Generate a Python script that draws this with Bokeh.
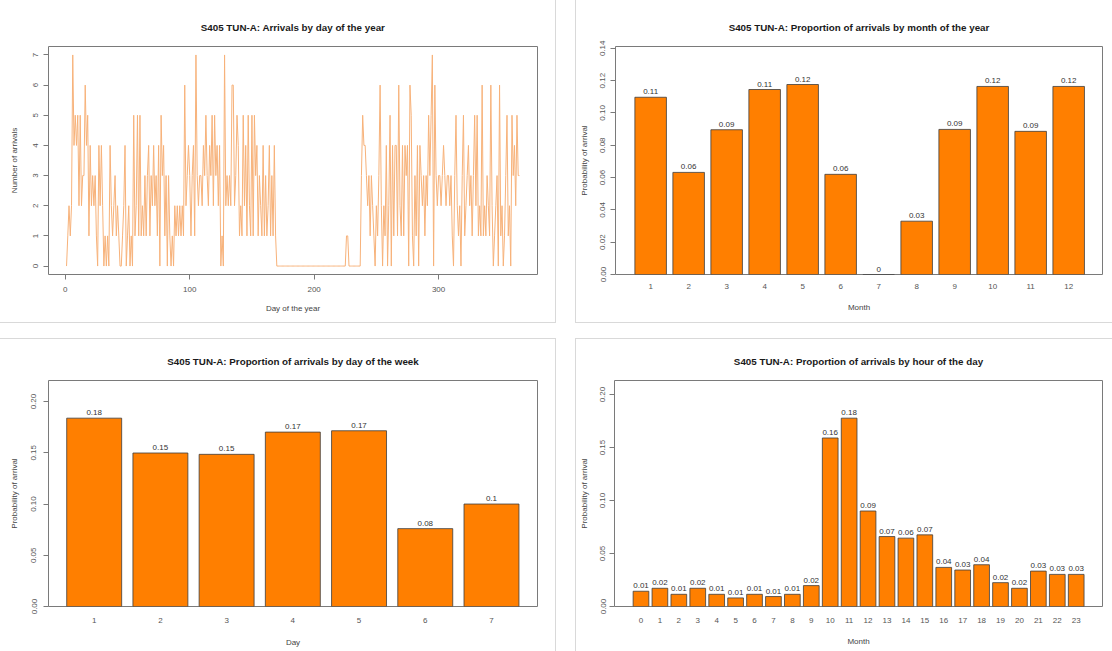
from bokeh.plotting import figure
from bokeh.layouts import row, column
from bokeh.models import ColumnDataSource, Range1d, FixedTicker, LabelSet, PrintfTickFormatter
from bokeh.core.properties import value
from bokeh.embed import file_html
from bokeh.resources import INLINE

FONT = "Liberation Sans"
BAR_ORANGE = "#FF7F00"
LINE_ORANGE = "#F7B27A"
BOX_GRAY = "#7a7a7a"
CARD_GRAY = "#d9d9d9"

# ---- data -------------------------------------------------------------
daily_arrivals = [
    0, 1, 2, 1, 2, 7, 4, 5, 4, 5,
    2, 5, 2, 3, 3, 6, 4, 5, 1, 4,
    2, 3, 2, 3, 1, 0, 4, 2, 4, 2,
    0, 1, 0, 1, 0, 4, 2, 1, 2, 3,
    1, 2, 1, 0, 0, 1, 2, 4, 0, 1,
    2, 0, 1, 0, 5, 1, 2, 5, 1, 5,
    1, 2, 1, 3, 1, 3, 4, 1, 3, 2,
    4, 2, 3, 1, 4, 0, 5, 3, 4, 1,
    3, 0, 3, 1, 0, 1, 0, 2, 1, 2,
    1, 2, 1, 2, 1, 6, 2, 3, 4, 3,
    1, 3, 4, 1, 7, 3, 2, 3, 3, 2,
    4, 3, 5, 3, 2, 4, 3, 5, 2, 5,
    3, 4, 2, 4, 0, 1, 0, 7, 2, 3,
    2, 3, 2, 6, 6, 2, 3, 5, 4, 1,
    2, 1, 5, 2, 4, 1, 5, 2, 1, 5,
    1, 5, 3, 4, 1, 3, 2, 1, 4, 1,
    3, 1, 2, 4, 1, 3, 1, 4, 1, 0,
    0, 0, 0, 0, 0, 0, 0, 0, 0, 0,
    0, 0, 0, 0, 0, 0, 0, 0, 0, 0,
    0, 0, 0, 0, 0, 0, 0, 0, 0, 0,
    0, 0, 0, 0, 0, 0, 0, 0, 0, 0,
    0, 0, 0, 0, 0, 0, 0, 0, 0, 0,
    0, 0, 0, 0, 0, 1, 1, 0, 0, 0,
    0, 0, 0, 0, 0, 0, 0, 3, 5, 4,
    4, 3, 2, 3, 1, 3, 2, 1, 0, 2,
    1, 3, 6, 2, 0, 2, 1, 4, 0, 2,
    5, 0, 4, 1, 4, 4, 1, 6, 2, 1,
    4, 1, 4, 3, 4, 0, 6, 5, 1, 0,
    3, 1, 4, 0, 4, 3, 2, 3, 1, 3,
    2, 5, 3, 5, 7, 0, 6, 3, 2, 3,
    3, 2, 3, 4, 3, 2, 3, 3, 2, 3,
    1, 0, 3, 5, 2, 1, 2, 0, 3, 5,
    1, 2, 3, 4, 2, 3, 1, 3, 5, 2,
    5, 1, 2, 1, 6, 1, 2, 1, 3, 2,
    1, 6, 2, 0, 1, 2, 3, 0, 6, 1,
    2, 0, 1, 3, 5, 1, 2, 0, 5, 3,
    4, 2, 5, 3, 3,
]
days = list(range(1, len(daily_arrivals) + 1))
day_ticks = [0, 100, 200, 300]
count_ticks = [0, 1, 2, 3, 4, 5, 6, 7]

months = [1, 2, 3, 4, 5, 6, 7, 8, 9, 10, 11, 12]
month_prop = [0.1097, 0.0632, 0.0896, 0.1145, 0.1176, 0.0620,
              0.0000, 0.0330, 0.0898, 0.1164, 0.0886, 0.1164]
month_yticks = [0.00, 0.02, 0.04, 0.06, 0.08, 0.10, 0.12, 0.14]

weekdays = [1, 2, 3, 4, 5, 6, 7]
weekday_prop = [0.1838, 0.1498, 0.1485, 0.1702, 0.1715, 0.0760, 0.1000]
week_yticks = [0.00, 0.05, 0.10, 0.15, 0.20]

hours = list(range(24))
hour_prop = [0.0144, 0.0172, 0.0115, 0.0172, 0.0115, 0.0081, 0.0115, 0.0094,
             0.0115, 0.0197, 0.1590, 0.1777, 0.0901, 0.0660, 0.0645, 0.0676,
             0.0369, 0.0344, 0.0394, 0.0225, 0.0172, 0.0334, 0.0303, 0.0303]
hour_yticks = [0.00, 0.05, 0.10, 0.15, 0.20]


def r_label(v):
    s = f"{round(v, 2):.2f}".rstrip("0").rstrip(".")
    return s if s else "0"


def base_fig(width, height, x_range, y_range, title, xlabel, ylabel,
             mbl, mbr, mbt, mbb, styles, title_standoff):
    p = figure(width=width, height=height, x_range=x_range, y_range=y_range,
               output_backend="svg", toolbar_location=None,
               min_border_left=mbl, min_border_right=mbr,
               min_border_top=mbt, min_border_bottom=mbb,
               styles=styles)
    p.title.text = title
    p.title.text_font = FONT
    p.title.text_font_size = "9.8px"
    p.title.text_font_style = "bold"
    p.title.text_color = "#1a1a1a"
    p.title.align = "center"
    p.title.standoff = title_standoff
    p.xgrid.visible = False
    p.ygrid.visible = False
    p.outline_line_color = BOX_GRAY
    p.outline_line_width = 1
    p.background_fill_color = "white"
    p.border_fill_color = "white"
    for ax in list(p.xaxis) + list(p.yaxis):
        ax.axis_line_color = None
        ax.minor_tick_line_color = None
        ax.major_tick_in = 0
        ax.major_tick_out = 5
        ax.major_tick_line_color = BOX_GRAY
        ax.major_label_text_font = FONT
        ax.major_label_text_font_size = "8px"
        ax.major_label_text_color = "#555555"
        ax.axis_label_text_font = FONT
        ax.axis_label_text_font_size = "8px"
        ax.axis_label_text_font_style = "normal"
        ax.axis_label_text_color = "#444444"
    p.xaxis.axis_label = xlabel
    p.yaxis.axis_label = ylabel
    p.yaxis.major_label_orientation = "vertical"
    p.yaxis.major_label_standoff = 5
    p.yaxis.axis_label_standoff = 11
    return p


def bar_fig(width, height, cats, props, yticks, xr, title, xlabel,
            mbl, mbr, mbt, mbb, styles, title_standoff, xt_standoff,
            xl_standoff, yt_standoff, yl_standoff):
    yr = Range1d(0, max(props) * 1.2)
    p = base_fig(width, height, xr, yr, title, xlabel, "Probability of arrival",
                 mbl, mbr, mbt, mbb, styles, title_standoff)
    src = ColumnDataSource(dict(x=cats, top=props,
                                label=[r_label(v) for v in props]))
    p.vbar(x="x", top="top", width=0.83, source=src,
           fill_color=BAR_ORANGE, line_color="#3d3d3d", line_width=0.8)
    p.add_layout(LabelSet(x="x", y="top", text="label", source=src,
                          text_align="center", text_baseline="bottom",
                          y_offset=3, text_font=value(FONT),
                          text_font_size="8px", text_color="#333333"))
    p.xaxis.ticker = FixedTicker(ticks=cats)
    p.xaxis.major_tick_out = 0
    p.xaxis.major_tick_line_color = None
    p.xaxis.major_label_standoff = xt_standoff
    p.xaxis.axis_label_standoff = xl_standoff
    p.yaxis.ticker = FixedTicker(ticks=yticks)
    p.yaxis.formatter = PrintfTickFormatter(format="%.2f")
    p.yaxis.major_label_standoff = yt_standoff
    p.yaxis.axis_label_standoff = yl_standoff
    return p


# ---- panel 1: arrivals by day of the year -----------------------------
p1 = base_fig(556, 323, Range1d(-13.5, 379.5), Range1d(-0.28, 7.28),
              "S405 TUN-A: Arrivals by day of the year", "Day of the year",
              "Number of arrivals", 48, 19, 46, 49,
              {"border-right": f"1px solid {CARD_GRAY}",
               "border-bottom": f"1px solid {CARD_GRAY}"}, 28)
p1.line(days, daily_arrivals, line_color=LINE_ORANGE, line_width=1)
p1.xaxis.ticker = FixedTicker(ticks=day_ticks)
p1.yaxis.ticker = FixedTicker(ticks=count_ticks)
p1.xaxis.major_label_standoff = 7
p1.xaxis.axis_label_standoff = 9
p1.yaxis.axis_label_standoff = 12

# ---- panel 2: by month --------------------------------------------------
p2 = bar_fig(537, 323, months, month_prop, month_yticks, Range1d(0.075, 12.89),
             "S405 TUN-A: Proportion of arrivals by month of the year", "Month",
             37, 11, 46, 49,
             {"border-left": f"1px solid {CARD_GRAY}",
              "border-bottom": f"1px solid {CARD_GRAY}"}, 28, 9, 11, 5, 9)

# ---- panel 3: by day of week -------------------------------------------
p3 = bar_fig(556, 313, weekdays, weekday_prop, week_yticks, Range1d(0.31, 7.695),
             "S405 TUN-A: Proportion of arrivals by day of the week", "Day",
             48, 19, 40, 46,
             {"border-right": f"1px solid {CARD_GRAY}",
              "border-top": f"1px solid {CARD_GRAY}"}, 28, 11, 12, 7, 10)

# ---- panel 4: by hour of day -------------------------------------------
p4 = bar_fig(537, 313, hours, hour_prop, hour_yticks, Range1d(-1.40, 24.39),
             "S405 TUN-A: Proportion of arrivals by hour of the day", "Month",
             38, 11, 40, 46,
             {"border-left": f"1px solid {CARD_GRAY}",
              "border-top": f"1px solid {CARD_GRAY}"}, 28, 11, 11, 4, 9)

layout = column(row(p1, p2, spacing=19), row(p3, p4, spacing=19), spacing=15)

open("out.html", "w").write(file_html(layout, INLINE))
